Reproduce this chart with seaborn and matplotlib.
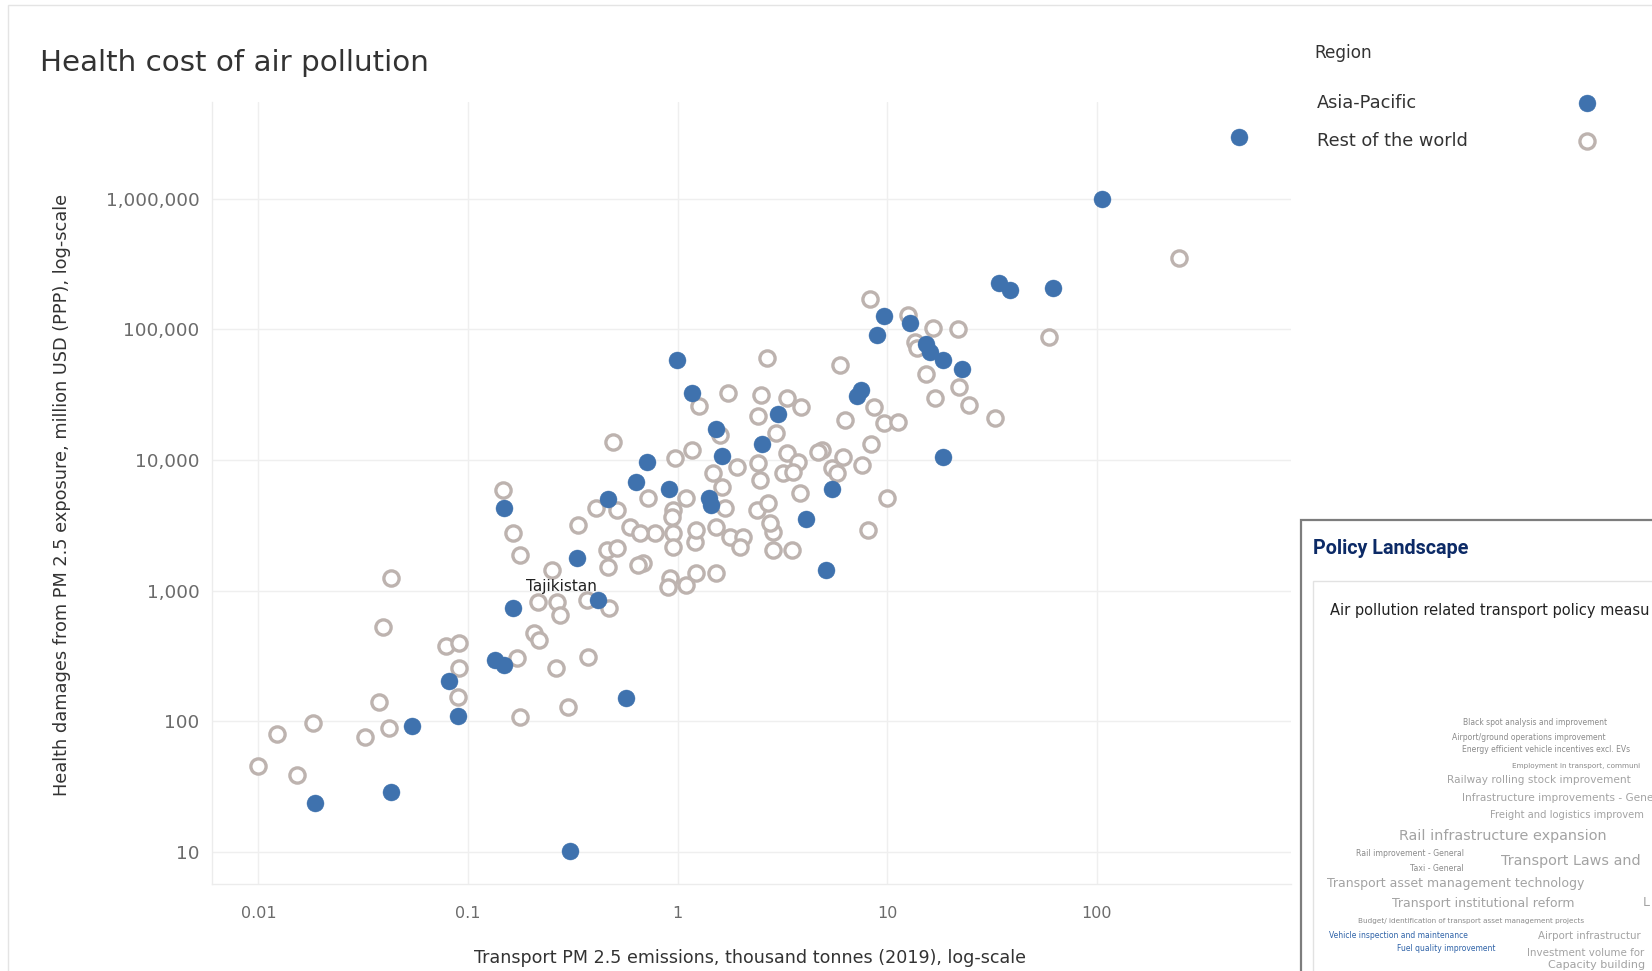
import matplotlib
matplotlib.use("Agg")
import matplotlib.pyplot as plt
from matplotlib.patches import Rectangle
from matplotlib.lines import Line2D
from matplotlib.ticker import NullLocator
import numpy as np
import pandas as pd
import seaborn as sns

# ---------------------------------------------------------------------------
# Data: transport PM2.5 emissions (thousand tonnes, 2019) vs. health damages
# from PM2.5 exposure (million USD, PPP)
# ---------------------------------------------------------------------------
asia_emissions = [476, 106, 34.0, 38.4, 61.7, 9.62, 12.8, 8.91, 15.3, 16.0,
                  18.4, 22.7, 7.48, 7.15, 18.4, 5.43, 0.99, 1.17, 1.52, 3.00,
                  2.52, 1.62, 0.711, 0.631, 0.906, 1.41, 1.45, 4.08, 5.08, 0.463,
                  0.149, 0.330, 0.415, 0.163, 0.134, 0.149, 0.565, 0.0807, 0.0891, 0.0543,
                  0.0187, 0.0427, 0.308]
asia_damages = [2990000, 990000, 227000, 201000, 208000, 127000, 112000, 91000, 77600, 67300,
                58500, 49900, 34500, 31000, 10600, 6030, 58500, 32700, 17300, 22600,
                13300, 10800, 9690, 6810, 6030, 5140, 4540, 3550, 1440, 5050,
                4310, 1780, 851, 738, 295, 270, 151, 204, 110, 92.2,
                23.7, 28.8, 10.2]

rest_emissions = [246, 8.24, 12.5, 16.5, 21.7, 13.5, 13.8, 59.0, 5.93, 15.3,
                  21.9, 16.9, 24.5, 8.63, 6.27, 32.6, 9.62, 11.3, 8.34, 4.86,
                  6.13, 5.43, 7.55, 10.0, 2.66, 1.26, 1.73, 2.49, 3.31, 3.86,
                  2.41, 2.94, 1.60, 1.17, 0.969, 3.31, 4.66, 3.74, 2.41, 1.91,
                  1.47, 2.46, 3.17, 3.54, 3.82, 5.74, 8.07, 0.719, 1.10, 0.946,
                  1.62, 2.38, 2.69, 0.776, 0.946, 1.21, 1.53, 1.77, 2.04, 1.98,
                  2.84, 2.84, 3.50, 0.681, 0.916, 1.23, 1.53, 0.490, 0.146, 0.410,
                  0.512, 0.935, 1.68, 0.163, 0.333, 0.590, 0.659, 1.23, 2.75, 0.458,
                  0.512, 0.946, 0.176, 0.463, 0.644, 0.251, 0.895, 1.10, 0.215, 0.267,
                  0.274, 0.368, 0.473, 0.207, 0.219, 0.172, 0.264, 0.372, 0.299, 0.176,
                  0.0427, 0.0391, 0.0789, 0.0902, 0.0902, 0.0891, 0.0374, 0.0183, 0.0123, 0.0324,
                  0.0418, 0.0100, 0.0152]
rest_damages = [353000, 171000, 129000, 103000, 101000, 80400, 72300, 87800, 53600, 45700,
                36300, 29900, 26500, 25500, 20300, 21000, 19300, 19600, 13300, 12000,
                10600, 8720, 9190, 5140, 60600, 26000, 32700, 31600, 29900, 25500,
                21800, 16200, 15600, 12000, 10400, 11300, 11600, 9690, 9520, 8870,
                7980, 7050, 7980, 8130, 5610, 7980, 2920, 5140, 5140, 4160,
                6240, 4160, 4700, 2770, 2770, 2360, 3080, 2580, 2580, 2160,
                2820, 2050, 2050, 1630, 1250, 1370, 1370, 13800, 5910, 4310,
                4160, 3670, 4310, 2770, 3190, 3080, 2770, 2920, 3300, 2050,
                2130, 2160, 1880, 1520, 1580, 1440, 1070, 1110, 821, 821,
                653, 851, 738, 475, 420, 306, 256, 311, 129, 108,
                1250, 528, 378, 398, 256, 154, 141, 97.3, 80.2, 76.0,
                89.0, 45.6, 38.9]

regions = ["Asia-Pacific", "Rest of the world"]
labelled_country = "Tajikistan"
labelled_index = 32  # position of the labelled country in the Asia-Pacific arrays

x_ticks = [0.01, 0.1, 1, 10, 100]
x_tick_labels = ["0.01", "0.1", "1", "10", "100"]
y_ticks = [10, 100, 1000, 10000, 100000, 1000000]
y_tick_labels = ["10", "100", "1,000", "10,000", "100,000", "1,000,000"]

# policy measure terms as they appear in the (right-edge trimmed) word cloud
policy_terms = [
    "Black spot analysis and improvement",
    "Airport/ground operations improvement",
    "Energy efficient vehicle incentives excl. EVs",
    "Employment in transport, communi",
    "Railway rolling stock improvement",
    "Infrastructure improvements - Gene",
    "Freight and logistics improvem",
    "Rail infrastructure expansion",
    "Rail improvement - General",
    "Taxi - General",
    "Transport Laws and",
    "Transport asset management technology",
    "Transport institutional reform",
    "L",
    "Budget/ identification of transport asset management projects",
    "Vehicle inspection and maintenance",
    "Fuel quality improvement",
    "Airport infrastructur",
    "Investment volume for",
    "Capacity building",
]
highlighted_terms = ["Vehicle inspection and maintenance", "Fuel quality improvement"]

df = pd.DataFrame({
    "emissions": asia_emissions + rest_emissions,
    "damages": asia_damages + rest_damages,
    "region": [regions[0]] * len(asia_emissions) + [regions[1]] * len(rest_emissions),
})

# ---------------------------------------------------------------------------
# Styling
# ---------------------------------------------------------------------------
sns.set_theme(style="white")
plt.rcParams["font.family"] = ["DejaVu Sans"]

BLUE = "#3f72ae"
RING = "#bdb3af"
GRID = "#efefef"
TEXT_DARK = "#333333"
TEXT_MID = "#6b6b6b"

W, H = 1652, 971
fig = plt.figure(figsize=(W / 100, H / 100), dpi=100)
fig.patch.set_facecolor("white")


def fx(px):
    return px / W


def fy(py):
    return 1 - py / H


# dashboard frame
fig.add_artist(Rectangle((fx(8), fy(990)), 1.2, fy(5) - fy(990), transform=fig.transFigure,
                         fill=False, edgecolor="#e4e4e4", linewidth=1.0))

# ---------------------------------------------------------------------------
# Scatter plot
# ---------------------------------------------------------------------------
ax = fig.add_axes([fx(212), fy(884), fx(1291) - fx(212), fy(102) - fy(884)])
ax.set_xscale("log")
ax.set_yscale("log")

rest = df[df["region"] == regions[1]]
asia = df[df["region"] == regions[0]]
sns.scatterplot(data=rest, x="emissions", y="damages", ax=ax, legend=False,
                s=120, color="white", edgecolor=RING, linewidth=2.4, zorder=3)
sns.scatterplot(data=asia, x="emissions", y="damages", ax=ax, legend=False,
                s=150, color=BLUE, edgecolor=BLUE, linewidth=0.3, zorder=4)

ax.annotate(labelled_country,
            xy=(asia_emissions[labelled_index], asia_damages[labelled_index]),
            xytext=(-36, 13), textcoords="offset pixels", ha="center", va="center",
            fontsize=11, color="#222222", zorder=6)

ax.set_xlim(0.006, 845)
ax.set_ylim(5.7, 5.5e6)
ax.set_xticks(x_ticks)
ax.set_xticklabels(x_tick_labels)
ax.set_yticks(y_ticks)
ax.set_yticklabels(y_tick_labels)
ax.xaxis.set_minor_locator(NullLocator())
ax.yaxis.set_minor_locator(NullLocator())
ax.tick_params(axis="both", length=0)
ax.tick_params(axis="x", pad=16, labelsize=11.5, labelcolor=TEXT_MID)
ax.tick_params(axis="y", pad=9, labelsize=13.3, labelcolor=TEXT_MID)
ax.grid(True, color=GRID, linewidth=1.0, zorder=0)
ax.set_axisbelow(True)
for side in ["top", "right"]:
    ax.spines[side].set_visible(False)
for side in ["left", "bottom"]:
    ax.spines[side].set_color("#ececec")
    ax.spines[side].set_linewidth(1.0)

ax.set_xlabel("Transport PM 2.5 emissions, thousand tonnes (2019), log-scale",
              fontsize=12.6, color=TEXT_DARK)
ax.xaxis.set_label_coords(0.4986, -0.094)
ax.xaxis.label.set_va("center")
ax.set_ylabel("Health damages from PM 2.5 exposure, million USD (PPP), log-scale",
              fontsize=12.8, color=TEXT_DARK)
ax.yaxis.set_label_coords(-0.139, 0.497)
ax.yaxis.label.set_va("center")

fig.text(fx(40), fy(63), "Health cost of air pollution", ha="left", va="center",
         fontsize=21.2, color=TEXT_DARK)

# ---------------------------------------------------------------------------
# Legend
# ---------------------------------------------------------------------------
fig.text(fx(1314), fy(53), "Region", ha="left", va="center", fontsize=12.2, color=TEXT_DARK)
legend_rows = [(regions[0], 103), (regions[1], 141)]
for name, ypix in legend_rows:
    fig.text(fx(1317), fy(ypix), name, ha="left", va="center", fontsize=12.8, color=TEXT_DARK)
fig.add_artist(Line2D([fx(1587)], [fy(103)], transform=fig.transFigure, marker="o",
                      markersize=12.2, markerfacecolor=BLUE, markeredgecolor=BLUE,
                      markeredgewidth=0.3, linestyle="none"))
fig.add_artist(Line2D([fx(1587)], [fy(141)], transform=fig.transFigure, marker="o",
                      markersize=10.9, markerfacecolor="white", markeredgecolor=RING,
                      markeredgewidth=2.4, linestyle="none"))

# ---------------------------------------------------------------------------
# Policy landscape panel
# ---------------------------------------------------------------------------
fig.add_artist(Rectangle((fx(1301), fy(1000)), 0.5, fy(520) - fy(1000), transform=fig.transFigure,
                         facecolor="white", edgecolor="#7d7d7d", linewidth=1.6, zorder=5))
fig.add_artist(Rectangle((fx(1313), fy(1000)), 0.5, fy(581) - fy(1000), transform=fig.transFigure,
                         facecolor="white", edgecolor="#e2e2e2", linewidth=1.0, zorder=6))
fig.text(fx(1313), fy(549), "Policy Landscape", ha="left", va="center", fontsize=14.2,
         fontweight="bold", family="Roboto", color="#0c2a66", zorder=7)
fig.text(fx(1330), fy(611), "Air pollution related transport policy measu",
         ha="left", va="center", fontsize=10.5, color="#222222", zorder=7)

# term placement: (anchor x, centre y, font size, horizontal alignment)
term_layout = [
    (1535, 722, 5.5, "center"),
    (1529, 737, 5.5, "center"),
    (1462, 749, 5.5, "left"),
    (1512, 766, 5.2, "left"),
    (1447, 780, 7.6, "left"),
    (1462, 798, 7.6, "left"),
    (1490, 815, 7.2, "left"),
    (1399, 836, 10.4, "left"),
    (1464, 853, 5.6, "right"),
    (1464, 868, 5.6, "right"),
    (1501, 861, 10.4, "left"),
    (1327, 884, 9.0, "left"),
    (1392, 903, 9.0, "left"),
    (1643, 903, 9.0, "left"),
    (1358, 921, 5.2, "left"),
    (1329, 935, 5.5, "left"),
    (1397, 948, 5.5, "left"),
    (1538, 936, 7.4, "left"),
    (1527, 953, 7.4, "left"),
    (1548, 965, 8.0, "left"),
]
for term, (xp, yp, size, ha) in zip(policy_terms, term_layout):
    if term in highlighted_terms:
        col = "#2f63a8"
    elif size < 6.5:
        col = "#8a8a8a"
    else:
        col = "#a3a3a3"
    fig.text(fx(xp), fy(yp), term, ha=ha, va="center", fontsize=size, color=col, zorder=8)

fig.savefig("out.png", dpi=100, facecolor="white")
